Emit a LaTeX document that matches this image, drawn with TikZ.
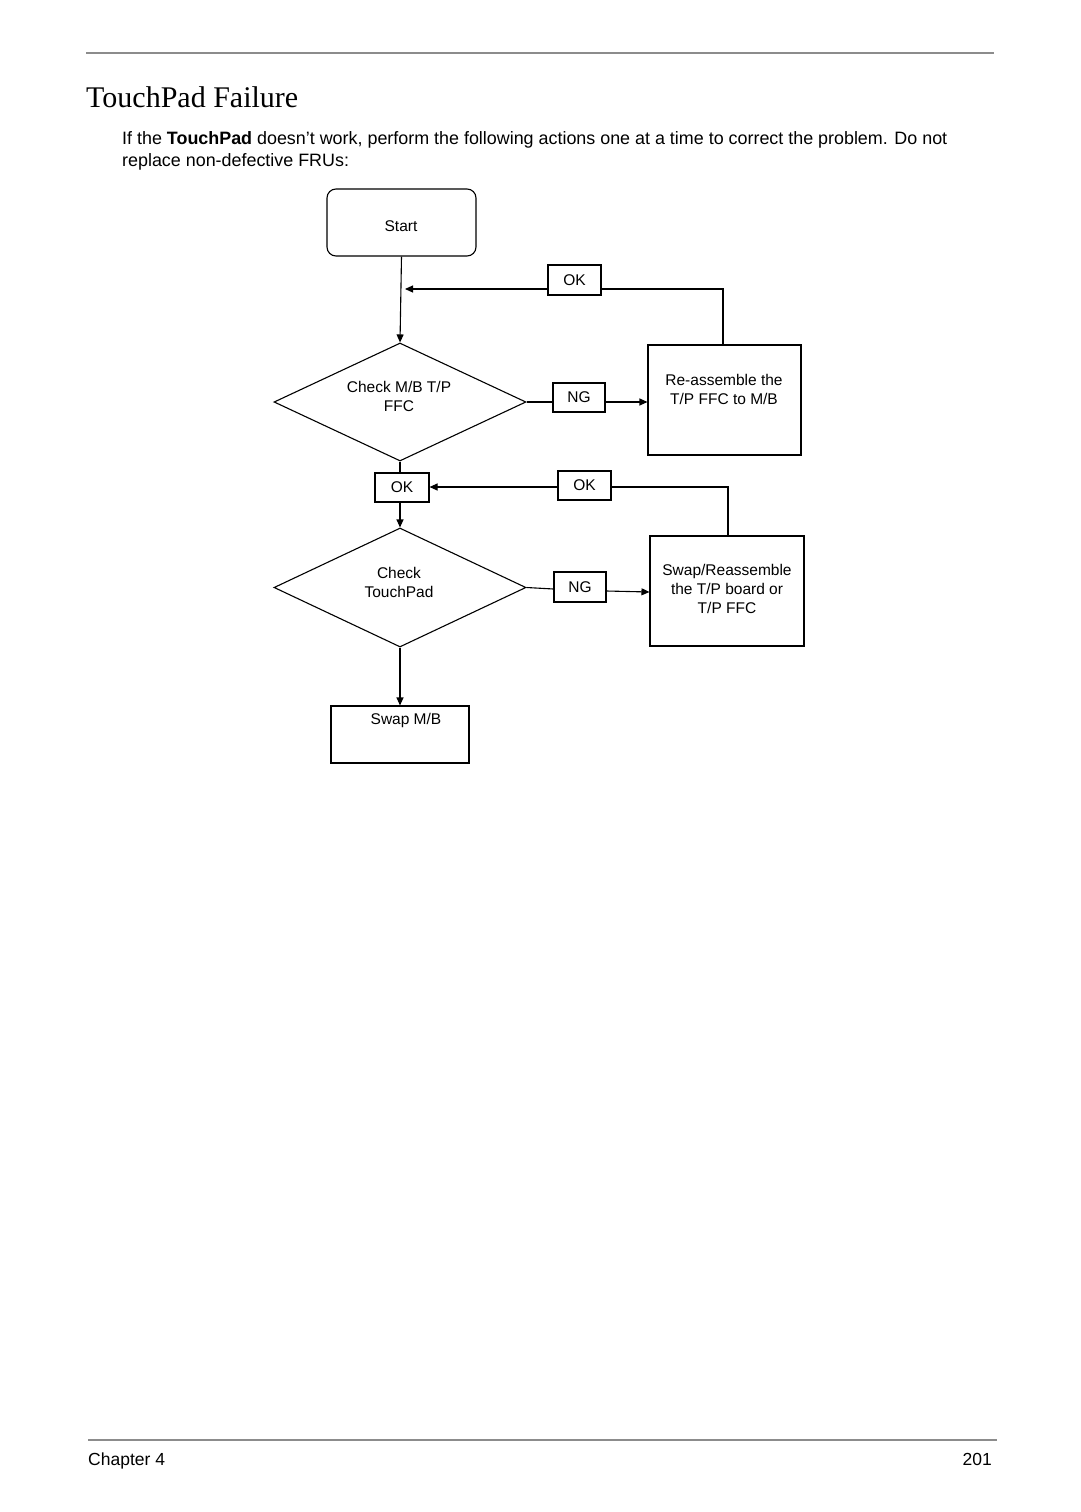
\documentclass[tikz,border=0pt]{standalone}
\usepackage{fontspec}
\setmainfont{Liberation Serif}
\newfontfamily\arial{Liberation Sans}
\usetikzlibrary{arrows.meta,shapes.geometric}
\tikzset{
  box/.style={draw, line width=1.1pt, rectangle, inner sep=0pt, font=\arial\fontsize{15.5}{19}\selectfont, align=center},
  lab/.style={draw, line width=1.1pt, rectangle, inner sep=0pt, minimum width=53pt, minimum height=30pt, font=\arial\fontsize{15.5}{19}\selectfont},
  txt/.style={font=\arial\fontsize{15.5}{19}\selectfont, align=center, inner sep=0pt},
  conn/.style={line width=1.1pt},
  arr/.style={line width=1.1pt, -{Triangle[length=8pt,width=7pt]}},
  rule/.style={draw=gray!90, line width=2.2pt}
}
\begin{document}
\begin{tikzpicture}[x=1pt,y=-1pt]
\useasboundingbox (0,0) rectangle (1080,1512);
% page rules
\coordinate (r1a) at (86,53); \coordinate (r1b) at (994,53);
\draw[rule] (r1a) -- (r1b);
\coordinate (r2a) at (88,1440); \coordinate (r2b) at (997,1440);
\draw[rule] (r2a) -- (r2b);
% title & text
\node[anchor=base west, inner sep=0pt, font=\fontsize{30}{36}\selectfont] (title) at (86,107) {TouchPad Failure};
\node[anchor=base west, inner sep=0pt, font=\arial\fontsize{17.9}{22}\selectfont] (p1) at (122,144) {If the \textbf{TouchPad} doesn’t work, perform the following actions one at a time to correct the problem. Do not};
\node[anchor=base west, inner sep=0pt, font=\arial\fontsize{17.9}{22}\selectfont] (p2) at (122,166) {replace non-defective FRUs:};
\node[anchor=base west, inner sep=0pt, font=\arial\fontsize{17.5}{22}\selectfont] (ch) at (88,1465) {Chapter 4};
\node[anchor=base east, inner sep=0pt, font=\arial\fontsize{17.5}{22}\selectfont] (pg) at (992,1465) {201};

% nodes
\node[draw, line width=1.1pt, rounded corners=9pt, minimum width=149pt, minimum height=67pt, inner sep=0pt] (start) at (401.5,222.5) {};
\node[txt] at (401,226) {Start};
\node[draw, line width=1.1pt, diamond, aspect=2.13, minimum width=252pt, minimum height=118pt, inner sep=0pt] (d1) at (400,402) {};
\node[txt] at (399,396) {Check M/B T/P\\FFC};
\node[lab] (ok1) at (574.5,280) {OK};
\node[lab, minimum width=52pt, minimum height=29pt] (ng1) at (579,397.5) {NG};
\node[box, minimum width=153pt, minimum height=110pt] (rb) at (724.5,400) {};
\node[txt] at (724,389) {Re-assemble the\\T/P FFC to M/B};
\node[lab, minimum width=54pt, minimum height=29pt] (ok2) at (402,487.5) {OK};
\node[lab, minimum width=53pt, minimum height=29pt] (ok3) at (584.5,485.5) {OK};
\node[draw, line width=1.1pt, diamond, aspect=2.13, minimum width=252pt, minimum height=119pt, inner sep=0pt] (d2) at (400,587.5) {};
\node[txt] at (399,582.5) {Check\\TouchPad};
\node[lab, minimum width=52pt, minimum height=30pt] (ng2) at (580,587) {NG};
\node[box, minimum width=154pt, minimum height=110pt] (sb) at (727,591) {};
\node[txt] at (727,589) {Swap/Reassemble\\the T/P board or\\T/P FFC};
\node[box, minimum width=138pt, minimum height=57pt] (sw) at (400,734.5) {};
\node[txt] at (406,720) {Swap M/B};

% connectors
\coordinate (j1) at (405,289);
\coordinate (rbtop) at (723,289);
\draw[arr] (start.south) -- (d1.north);
\draw[conn] (rb.north -| rbtop) -- (rbtop) -- (ok1.east |- rbtop);
\draw[arr] (ok1.west |- j1) -- (j1);
\draw[conn] (d1.east) -- (ng1.west |- d1.east);
\draw[arr] (ng1.east |- 0,402) -- (rb.west |- 0,402);
\draw[conn] (d1.south) -- (ok2.north -| d1.south);
\coordinate (sbtop) at (728,487);
\draw[conn] (sb.north -| sbtop) -- (sbtop) -- (ok3.east |- sbtop);
\draw[arr] (ok3.west |- sbtop) -- (ok2.east |- sbtop);
\draw[arr] (ok2.south -| d2.north) -- (d2.north);
\draw[conn] (d2.east) -- (ng2.west |- 0,589);
\draw[arr] (ng2.east |- 0,591) -- (sb.west |- 0,592);
\draw[arr] (d2.south) -- (sw.north);
\end{tikzpicture}
\end{document}
